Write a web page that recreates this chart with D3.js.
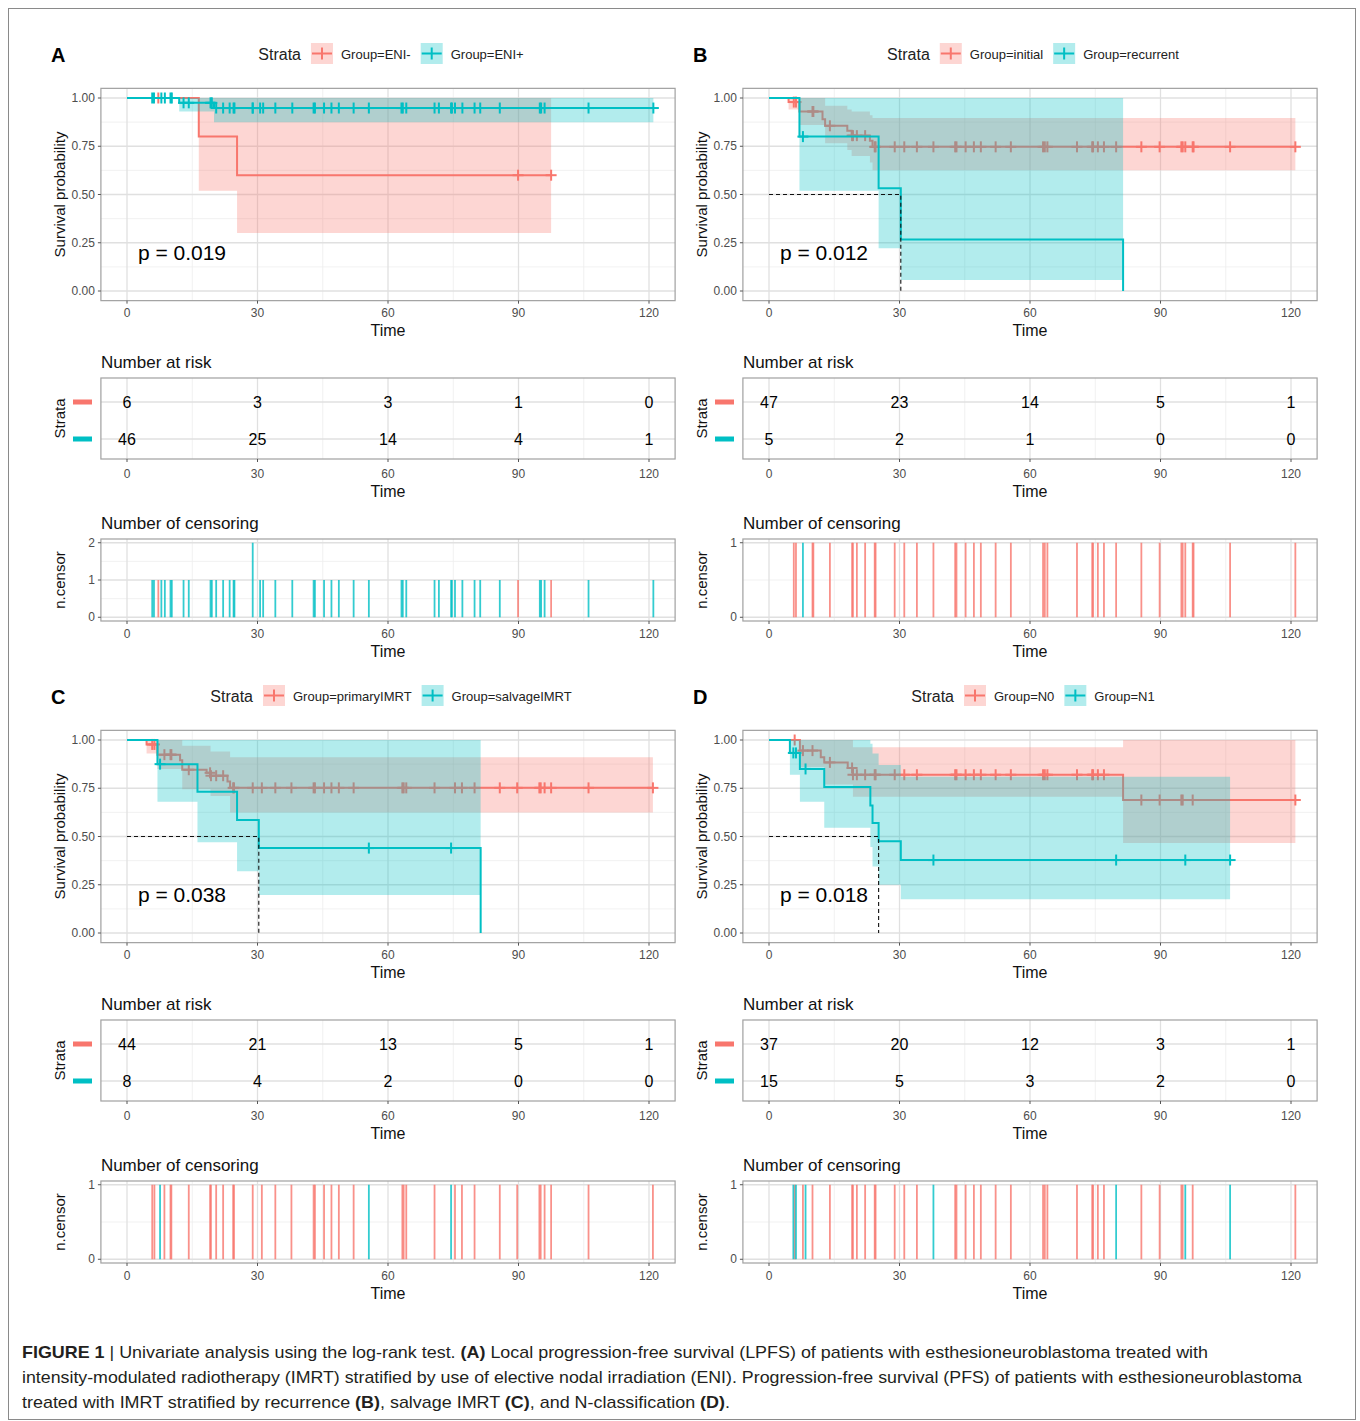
<!DOCTYPE html>
<html>
<head>
<meta charset="utf-8">
<script src="https://cdn.jsdelivr.net/npm/d3@7"></script>
<style>
  body { margin: 0; background: #fff; }
  text { font-family: "Liberation Sans", Arial, sans-serif; }
</style>
</head>
<body>
<svg id="fig" width="1360" height="1421"></svg>
<script>
// ---- shared ticks ----
var timeTicks = [0, 30, 60, 90, 120];
var timeMinor = [15, 45, 75, 105];
var survTicks = [0, 0.25, 0.5, 0.75, 1];
var survMinor = [0.125, 0.375, 0.625, 0.875];

// ---- panel A : ENI ----
var aGroups = ['Group=ENI-', 'Group=ENI+'];
var aRedSteps = [[16.5, 0.8], [25.3, 0.6]];
var aRedCI = [[16.5, 0.52, 1], [25.3, 0.30, 1]];
var aRedCens = [7.2, 89.9, 97.5];
var aTealSteps = [[12, 0.975], [20, 0.948]];
var aTealCI = [[12, 0.93, 1], [20, 0.875, 1]];
var aTealCens = [5.8, 6.2, 7.9, 8.7, 10.0, 10.3, 13.0, 14.2, 19.2, 19.5, 20.5, 22.1, 23.6, 24.5, 24.7,
  28.9, 28.9, 30.6, 31.3, 34.1, 38.0, 42.9, 43.2, 45.3, 47.0, 48.7, 52.1, 55.6, 63.1, 63.4, 64.2,
  70.7, 71.7, 74.5, 74.7, 75.4, 77.1, 79.9, 81.2, 85.7, 94.9, 95.2, 96.0, 106.1, 121.0];
var aRiskRed = [6, 3, 3, 1, 0];
var aRiskTeal = [46, 25, 14, 4, 1];
var aPval = 'p = 0.019';

// ---- panel B : recurrence ----
var bGroups = ['Group=initial', 'Group=recurrent'];
var bRedSteps = [[4.5, 0.979], [7, 0.93], [12.3, 0.89], [12.9, 0.856], [18, 0.83], [19, 0.805], [23.2, 0.778], [23.8, 0.747]];
var bRedCI = [[4.5, 0.94, 1], [7, 0.86, 1], [12.9, 0.765, 0.96], [18, 0.73, 0.94], [19, 0.70, 0.93], [23.2, 0.666, 0.91], [23.8, 0.626, 0.896]];
var bRedCens = [5.7, 6.2, 10.0, 10.2, 14.0, 19.1, 19.3, 20.2, 22.1, 24.3, 24.5, 28.9, 31.1, 34.0, 37.8,
  42.8, 43.1, 45.2, 47.1, 48.7, 52.1, 55.6, 63.0, 63.4, 64.0, 70.8, 74.3, 74.5, 75.6, 77.0, 79.8,
  85.6, 89.8, 94.8, 95.1, 95.7, 97.4, 97.6, 106.0, 121.0];
var bTealSteps = [[7, 0.8], [25.2, 0.533], [30.3, 0.267], [81.4, 0]];
var bTealCI = [[7, 0.519, 1], [25.2, 0.221, 1], [30.3, 0.057, 1]];
var bTealCens = [7.8];
var bRiskRed = [47, 23, 14, 5, 1];
var bRiskTeal = [5, 2, 1, 0, 0];
var bPval = 'p = 0.012';

// ---- panel C : salvage IMRT ----
var cGroups = ['Group=primaryIMRT', 'Group=salvageIMRT'];
var cRedSteps = [[4.5, 0.977], [7, 0.924], [12.2, 0.895], [12.7, 0.846], [18.3, 0.83], [19.2, 0.815], [23.1, 0.785], [23.7, 0.752]];
var cRedCI = [[4.5, 0.93, 1], [7, 0.85, 1], [12.7, 0.745, 0.97], [19.2, 0.71, 0.94], [23.7, 0.625, 0.91]];
var cRedCens = [5.8, 6.3, 8.6, 10.0, 10.2, 14.2, 19.1, 19.3, 20.5, 22.1, 24.4, 24.6, 28.9, 31.0, 34.1,
  37.8, 42.9, 43.2, 45.3, 47.0, 48.7, 52.1, 63.3, 63.6, 64.2, 70.7, 75.4, 77.0, 79.9, 85.7, 89.7,
  94.8, 95.1, 96.0, 97.5, 106.1, 120.9];
var cTealSteps = [[7, 0.875], [16.2, 0.732], [25.3, 0.585], [30.3, 0.44], [81.3, 0]];
var cTealCI = [[7, 0.68, 1], [16.2, 0.47, 1], [25.3, 0.32, 1], [30.3, 0.197, 1]];
var cTealCens = [7.6, 55.6, 74.5];
var cRiskRed = [44, 21, 13, 5, 1];
var cRiskTeal = [8, 4, 2, 0, 0];
var cPval = 'p = 0.038';

// ---- panel D : N-classification ----
var dGroups = ['Group=N0', 'Group=N1'];
var dRedSteps = [[7.1, 0.945], [11.9, 0.91], [12.7, 0.884], [18.1, 0.855], [19.3, 0.82], [81.4, 0.689]];
var dRedCI = [[7.1, 0.86, 1], [12.7, 0.77, 1], [19.3, 0.706, 0.962], [81.4, 0.466, 1]];
var dRedCens = [5.9, 7.8, 10.0, 14.0, 19.1, 19.3, 20.2, 22.1, 24.3, 24.5, 28.9, 31.1, 34.0, 42.8, 43.1,
  45.2, 47.1, 48.7, 52.1, 55.6, 63.0, 63.4, 64.0, 70.8, 74.3, 74.5, 75.6, 77.0, 85.6, 89.8, 94.8,
  95.1, 97.4, 121.0];
var dTealSteps = [[4.8, 0.933], [7.1, 0.85], [12.7, 0.757], [23.3, 0.66], [23.8, 0.57], [25.2, 0.475], [30.3, 0.378]];
var dTealCI = [[4.8, 0.82, 1], [7.1, 0.68, 1], [12.7, 0.545, 1], [23.3, 0.445, 0.98], [23.8, 0.345, 0.93], [25.2, 0.25, 0.87], [30.3, 0.175, 0.81]];
var dTealCens = [5.6, 6.2, 8.4, 37.8, 79.8, 95.7, 106.0];
var dRiskRed = [37, 20, 12, 3, 1];
var dRiskTeal = [15, 5, 3, 2, 0];
var dPval = 'p = 0.018';

var captionLines = [
  [['FIGURE 1', true], [' | Univariate analysis using the log-rank test. ', false], ['(A)', true],
   [' Local progression-free survival (LPFS) of patients with esthesioneuroblastoma treated with', false]],
  [['intensity-modulated radiotherapy (IMRT) stratified by use of elective nodal irradiation (ENI). Progression-free survival (PFS) of patients with esthesioneuroblastoma', false]],
  [['treated with IMRT stratified by recurrence ', false], ['(B)', true], [', salvage IMRT ', false], ['(C)', true],
   [', and N-classification ', false], ['(D)', true], ['.', false]]
];
var captionWidths = [1186, 1280, 708];

var panels = [
  { letter: 'A', groups: aGroups, steps: [aRedSteps, aTealSteps], ci: [aRedCI, aTealCI], cens: [aRedCens, aTealCens], risk: [aRiskRed, aRiskTeal], p: aPval, ox: 0, oy: 0 },
  { letter: 'B', groups: bGroups, steps: [bRedSteps, bTealSteps], ci: [bRedCI, bTealCI], cens: [bRedCens, bTealCens], risk: [bRiskRed, bRiskTeal], p: bPval, ox: 642, oy: 0 },
  { letter: 'C', groups: cGroups, steps: [cRedSteps, cTealSteps], ci: [cRedCI, cTealCI], cens: [cRedCens, cTealCens], risk: [cRiskRed, cRiskTeal], p: cPval, ox: 0, oy: 642 },
  { letter: 'D', groups: dGroups, steps: [dRedSteps, dTealSteps], ci: [dRedCI, dTealCI], cens: [dRedCens, dTealCens], risk: [dRiskRed, dRiskTeal], p: dPval, ox: 642, oy: 642 }
];

var colors = ['#F8766D', '#00BFC4'];
var svg = d3.select('#fig');

// outer frame
svg.append('rect').attr('x', 8.5).attr('y', 8.5).attr('width', 1347).attr('height', 1411)
  .attr('fill', 'none').attr('stroke', '#8a8a8a').attr('stroke-width', 1);

function survAt(steps, t) {
  var s = 1;
  steps.forEach(function (d) { if (d[0] <= t) s = d[1]; });
  return s;
}

function grid(g, x, y, xs, ys, left, right, top, bottom, w) {
  g.selectAll(null).data(xs).enter().append('line')
    .attr('x1', function (d) { return x(d); }).attr('x2', function (d) { return x(d); })
    .attr('y1', top).attr('y2', bottom)
    .attr('stroke', w > 1 ? '#e0e0e0' : '#ededed').attr('stroke-width', w);
  g.selectAll(null).data(ys).enter().append('line')
    .attr('y1', function (d) { return y(d); }).attr('y2', function (d) { return y(d); })
    .attr('x1', left).attr('x2', right)
    .attr('stroke', w > 1 ? '#e0e0e0' : '#ededed').attr('stroke-width', w);
}

function xAxis(g, x, bottom, labelY, titleY) {
  g.selectAll(null).data(timeTicks).enter().append('line')
    .attr('x1', function (d) { return x(d); }).attr('x2', function (d) { return x(d); })
    .attr('y1', bottom).attr('y2', bottom + 3).attr('stroke', '#555');
  g.selectAll(null).data(timeTicks).enter().append('text')
    .attr('x', function (d) { return x(d); }).attr('y', labelY)
    .attr('text-anchor', 'middle').attr('dominant-baseline', 'central')
    .attr('font-size', 12).attr('fill', '#4d4d4d').text(function (d) { return d; });
  g.append('text').attr('x', x(60)).attr('y', titleY)
    .attr('text-anchor', 'middle').attr('dominant-baseline', 'central')
    .attr('font-size', 16).attr('fill', '#111').text('Time');
}

function yTitle(g, cx, cy, txt, size) {
  g.append('text').attr('transform', 'translate(' + cx + ',' + cy + ') rotate(-90)')
    .attr('text-anchor', 'middle').attr('dominant-baseline', 'central')
    .attr('font-size', size).attr('fill', '#111').text(txt);
}

function drawPanel(p) {
  var g = svg.append('g').attr('transform', 'translate(' + p.ox + ',' + p.oy + ')');
  var x = d3.scaleLinear().domain([0, 120]).range([127, 649]);
  var left = x(-6), right = x(126);

  // panel letter
  g.append('text').attr('x', 51).attr('y', 55).attr('dominant-baseline', 'central')
    .attr('font-size', 20).attr('font-weight', 'bold').attr('fill', '#000').text(p.letter);

  // legend
  var lg = g.append('g');
  var cx = 0;
  var st = lg.append('text').attr('x', 0).attr('y', 54).attr('dominant-baseline', 'central')
    .attr('font-size', 16).attr('fill', '#222').text('Strata');
  cx = st.node().getComputedTextLength() + 10;
  p.groups.forEach(function (name, i) {
    lg.append('rect').attr('x', cx).attr('y', 43).attr('width', 22).attr('height', 21)
      .attr('fill', colors[i]).attr('fill-opacity', 0.3);
    lg.append('line').attr('x1', cx + 1).attr('x2', cx + 21).attr('y1', 53.5).attr('y2', 53.5)
      .attr('stroke', colors[i]).attr('stroke-width', 2);
    lg.append('line').attr('x1', cx + 11).attr('x2', cx + 11).attr('y1', 47.5).attr('y2', 59.5)
      .attr('stroke', colors[i]).attr('stroke-width', 2);
    var t = lg.append('text').attr('x', cx + 30).attr('y', 54).attr('dominant-baseline', 'central')
      .attr('font-size', 13).attr('fill', '#222').text(name);
    cx += 30 + t.node().getComputedTextLength() + 10;
  });
  lg.attr('transform', 'translate(' + ((left + right) / 2 - (cx - 10) / 2 + 3) + ',0)');

  // ---- survival plot ----
  var y = d3.scaleLinear().domain([0, 1]).range([291, 98]);
  var top = y(1.05), bottom = y(-0.05);
  grid(g, x, y, timeMinor, survMinor, left, right, top, bottom, 0.8);
  grid(g, x, y, timeTicks, survTicks, left, right, top, bottom, 1.3);

  var area = d3.area().curve(d3.curveStepAfter)
    .x(function (d) { return x(d[0]); }).y0(function (d) { return y(d[1]); }).y1(function (d) { return y(d[2]); });
  var line = d3.line().curve(d3.curveStepAfter)
    .x(function (d) { return x(d[0]); }).y(function (d) { return y(d[1]); });

  var medians = [];
  [0, 1].forEach(function (i) {
    var steps = p.steps[i], ci = p.ci[i], cens = p.cens[i];
    var last = steps[steps.length - 1];
    var end = Math.max(last[0], d3.max(cens));
    var lastCI = ci[ci.length - 1];
    var band = [[0, 1, 1]].concat(ci).concat([[end, lastCI[1], lastCI[2]]]);
    g.append('path').datum(band).attr('d', area)
      .attr('fill', colors[i]).attr('fill-opacity', 0.3);
    var pts = [[0, 1]].concat(steps).concat([[end, last[1]]]);
    g.append('path').datum(pts).attr('d', line)
      .attr('fill', 'none').attr('stroke', colors[i]).attr('stroke-width', 2);
    cens.forEach(function (t) {
      var sy = y(survAt(steps, t)), sx = x(t);
      g.append('line').attr('x1', sx - 5.5).attr('x2', sx + 5.5).attr('y1', sy).attr('y2', sy)
        .attr('stroke', colors[i]).attr('stroke-width', 2);
      g.append('line').attr('x1', sx).attr('x2', sx).attr('y1', sy - 5.5).attr('y2', sy + 5.5)
        .attr('stroke', colors[i]).attr('stroke-width', 2);
    });
    var m = steps.filter(function (d) { return d[1] <= 0.5; })[0];
    if (m) medians.push(m[0]);
  });
  if (medians.length) {
    var mt = d3.min(medians);
    g.append('path').datum([[0, 0.5], [mt, 0.5], [mt, 0]])
      .attr('d', d3.line().x(function (d) { return x(d[0]); }).y(function (d) { return y(d[1]); }))
      .attr('fill', 'none').attr('stroke', '#111').attr('stroke-width', 1.1).attr('stroke-dasharray', '4,3');
  }
  g.append('text').attr('x', x(2.5)).attr('y', y(0.2)).attr('dominant-baseline', 'central')
    .attr('font-size', 21).attr('fill', '#000').text(p.p);

  g.append('rect').attr('x', left).attr('y', top).attr('width', right - left).attr('height', bottom - top)
    .attr('fill', 'none').attr('stroke', '#a0a0a0').attr('stroke-width', 1.2);
  g.selectAll(null).data(survTicks).enter().append('line')
    .attr('x1', left - 3).attr('x2', left).attr('y1', function (d) { return y(d); }).attr('y2', function (d) { return y(d); })
    .attr('stroke', '#555');
  g.selectAll(null).data(survTicks).enter().append('text')
    .attr('x', left - 6).attr('y', function (d) { return y(d); })
    .attr('text-anchor', 'end').attr('dominant-baseline', 'central')
    .attr('font-size', 12).attr('fill', '#4d4d4d').text(d3.format('.2f'));
  xAxis(g, x, bottom, 313, 330);
  yTitle(g, 59, y(0.5), 'Survival probability', 15);

  // ---- risk table ----
  var rTop = 378, rBottom = 459;
  var ry = d3.scalePoint().domain([0, 1]).range([402, 439]);
  grid(g, x, ry, timeMinor, [], left, right, rTop, rBottom, 0.8);
  grid(g, x, ry, timeTicks, [0, 1], left, right, rTop, rBottom, 1.3);
  g.append('text').attr('x', left).attr('y', 362).attr('dominant-baseline', 'central')
    .attr('font-size', 17).attr('fill', '#111').text('Number at risk');
  [0, 1].forEach(function (i) {
    g.selectAll(null).data(p.risk[i]).enter().append('text')
      .attr('x', function (d, j) { return x(timeTicks[j]); }).attr('y', ry(i))
      .attr('text-anchor', 'middle').attr('dominant-baseline', 'central')
      .attr('font-size', 16).attr('fill', '#000').text(function (d) { return d; });
    g.append('rect').attr('x', 73).attr('y', ry(i) - 2.5).attr('width', 19).attr('height', 5)
      .attr('fill', colors[i]);
  });
  g.append('rect').attr('x', left).attr('y', rTop).attr('width', right - left).attr('height', rBottom - rTop)
    .attr('fill', 'none').attr('stroke', '#a0a0a0').attr('stroke-width', 1.2);
  xAxis(g, x, rBottom, 474, 491);
  yTitle(g, 59, (rTop + rBottom) / 2, 'Strata', 15);

  // ---- censoring plot ----
  var counts = [];
  [0, 1].forEach(function (i) {
    d3.rollups(p.cens[i], function (v) { return v.length; }, function (t) { return t; })
      .forEach(function (r) { counts.push({ t: r[0], n: r[1], g: i }); });
  });
  var maxN = d3.max(counts, function (d) { return d.n; });
  var cy = d3.scaleLinear().domain([-0.05 * maxN, maxN * 1.05]).range([621, 539]);
  var cTicks = d3.range(0, maxN + 1);
  var cMinor = d3.range(0, maxN).map(function (v) { return v + 0.5; });
  grid(g, x, cy, timeMinor, cMinor, left, right, 539, 621, 0.8);
  grid(g, x, cy, timeTicks, cTicks, left, right, 539, 621, 1.3);
  g.append('text').attr('x', left).attr('y', 523).attr('dominant-baseline', 'central')
    .attr('font-size', 17).attr('fill', '#111').text('Number of censoring');
  g.selectAll(null).data(counts).enter().append('line')
    .attr('x1', function (d) { return x(d.t); }).attr('x2', function (d) { return x(d.t); })
    .attr('y1', cy(0)).attr('y2', function (d) { return cy(d.n); })
    .attr('stroke', function (d) { return colors[d.g]; }).attr('stroke-width', 1.8)
    .attr('stroke-opacity', 0.8);
  g.append('rect').attr('x', left).attr('y', 539).attr('width', right - left).attr('height', 82)
    .attr('fill', 'none').attr('stroke', '#a0a0a0').attr('stroke-width', 1.2);
  g.selectAll(null).data(cTicks).enter().append('line')
    .attr('x1', left - 3).attr('x2', left).attr('y1', function (d) { return cy(d); }).attr('y2', function (d) { return cy(d); })
    .attr('stroke', '#555');
  g.selectAll(null).data(cTicks).enter().append('text')
    .attr('x', left - 6).attr('y', function (d) { return cy(d); })
    .attr('text-anchor', 'end').attr('dominant-baseline', 'central')
    .attr('font-size', 12).attr('fill', '#4d4d4d').text(function (d) { return d; });
  xAxis(g, x, 621, 634, 651);
  yTitle(g, 59, 580, 'n.censor', 15);
}

panels.forEach(drawPanel);

// caption
captionLines.forEach(function (segs, i) {
  var t = svg.append('text').attr('x', 22).attr('y', 1352 + i * 25).attr('dominant-baseline', 'central')
    .attr('font-size', 17).attr('fill', '#231f20')
    .attr('textLength', captionWidths[i]).attr('lengthAdjust', 'spacingAndGlyphs');
  segs.forEach(function (s) {
    t.append('tspan').attr('font-weight', s[1] ? 'bold' : 'normal').text(s[0]);
  });
});
</script>
</body>
</html>
